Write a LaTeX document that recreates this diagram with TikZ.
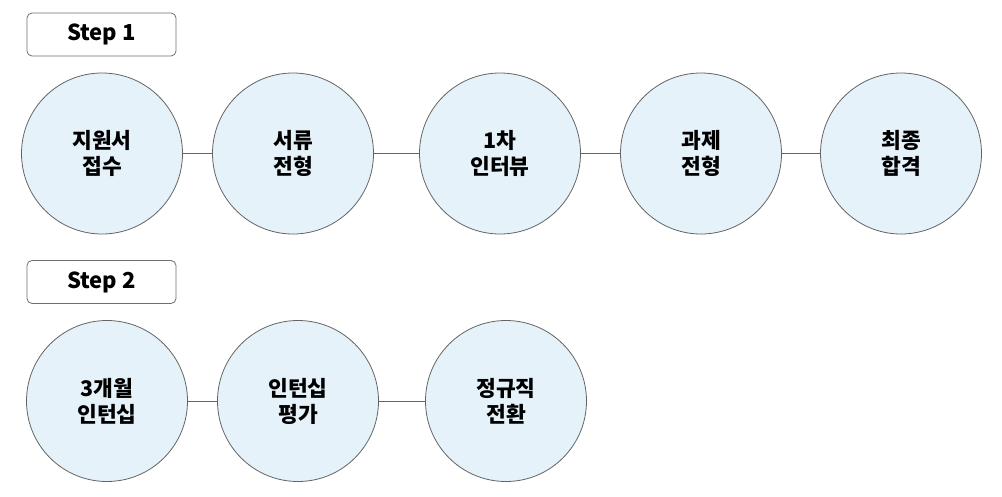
\documentclass[tikz,border=0pt]{standalone}
\usepackage{fontspec}
\setmainfont{Noto Sans CJK KR}
\usepackage{tikz}
\usetikzlibrary{positioning}
\definecolor{stagefill}{RGB}{230,242,249}
\definecolor{stageline}{RGB}{100,100,100}
\definecolor{boxline}{RGB}{110,110,110}

\begin{document}
\begin{tikzpicture}[
        x=1pt, y=-1pt,
        stagenode/.style={circle, draw=stageline, thick, fill=stagefill, minimum size=161pt, inner sep=0pt,
            font=\fontsize{21.5}{26}\selectfont\bfseries, align=center},
        stepbox/.style={rectangle, rounded corners=5pt, draw=boxline, thick, minimum width=149pt, minimum height=43pt,
            font=\fontsize{22}{26}\selectfont\bfseries},
        link/.style={draw=stageline, thick}
    ]
        \useasboundingbox (0,0) rectangle (1002,496);

        % Step 1
        \node[stepbox] (step1) at (101.5,34.5) {Step 1};
        \node[stagenode] (a1) at (102,153.5) {지원서\\접수};
        \node[stagenode] (a2) at (293,153.5) {서류\\전형};
        \node[stagenode] (a3) at (500,153.5) {1차\\인터뷰};
        \node[stagenode] (a4) at (701,153.5) {과제\\전형};
        \node[stagenode] (a5) at (901,153.5) {최종\\합격};

        \draw[link] (a1) -- (a2);
        \draw[link] (a2) -- (a3);
        \draw[link] (a3) -- (a4);
        \draw[link] (a4) -- (a5);

        % Step 2
        \node[stepbox] (step2) at (101.5,282) {Step 2};
        \node[stagenode] (b1) at (107,401) {3개월\\인턴십};
        \node[stagenode] (b2) at (298,401) {인턴십\\평가};
        \node[stagenode] (b3) at (506,401) {정규직\\전환};

        \draw[link] (b1) -- (b2);
        \draw[link] (b2) -- (b3);
    \end{tikzpicture}
\end{document}
